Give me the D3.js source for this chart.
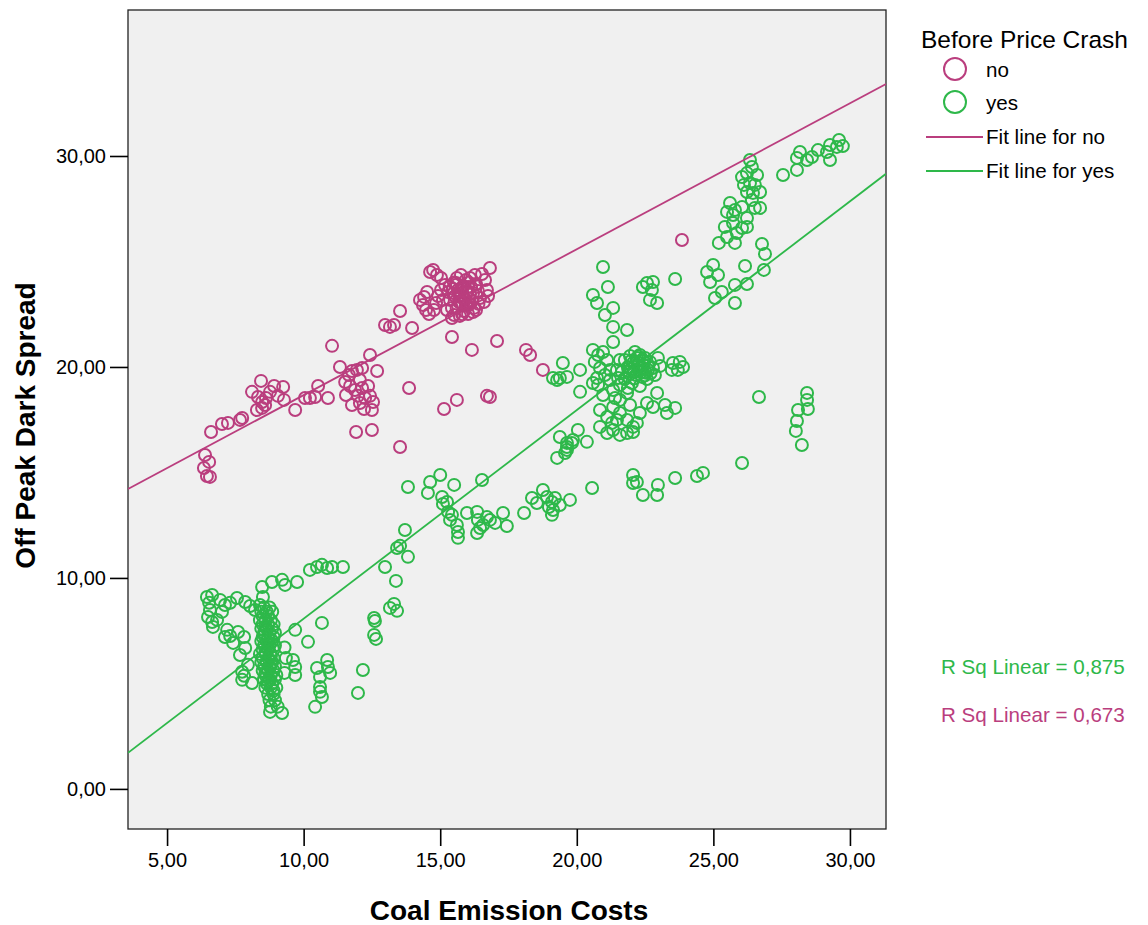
<!DOCTYPE html>
<html><head><meta charset="utf-8">
<script src="https://cdn.jsdelivr.net/npm/d3@7"></script>
<style>body{margin:0;background:#fff;font-family:"Liberation Sans",Arial,sans-serif}</style>
</head><body><svg id="c" width="1148" height="925"></svg>
<script>
// ---- data ----
const xTicks = [5, 10, 15, 20, 25, 30];
const yTicks = [0, 10, 20, 30];
const groups = ["no", "yes"];
const rSqLabels = ["R Sq Linear = 0,875", "R Sq Linear = 0,673"];
const fitNo = [11.75, 0.6915];   // intercept, slope
const fitYes = [-1.82, 0.989];

const noPoints = [
[6.39,15.83],[6.54,15.50],[6.35,15.21],[6.46,14.83],[6.57,14.79],[6.61,16.92],[7.01,17.30],[7.23,17.35],[7.67,17.49],[7.75,17.58],
[8.11,18.82],[8.44,19.34],[8.33,18.58],[8.48,18.34],[8.29,17.96],[8.48,18.06],[8.62,18.53],[8.77,18.82],[8.92,19.10],[9.25,19.05],
[9.28,18.44],[9.06,18.63],[8.59,18.20],[9.69,17.96],[10.05,18.53],[10.23,18.53],[10.42,18.58],[10.53,19.10],[10.89,18.53],[11.04,21.0],
[11.33,20.0],[11.52,19.29],[11.66,19.62],[11.77,19.81],[11.70,19.10],[11.88,18.91],[11.99,18.63],[12.06,19.38],[12.14,19.0],[12.25,18.53],
[12.06,18.29],[11.77,18.20],[12.43,18.63],[12.54,18.34],[12.36,19.10],[11.95,19.86],[12.14,19.95],[11.55,18.67],[12.21,18.01],[12.43,20.57],
[12.69,19.81],[11.92,16.92],[12.50,17.01],[12.50,17.96],[13.53,16.21],[12.98,21.99],[13.16,21.90],[13.31,21.99],[13.53,22.65],[13.97,21.85],
[13.86,19.0],[14.26,23.18],[14.37,22.94],[14.48,22.70],[14.59,22.51],[14.63,24.5],[14.74,24.6],[14.88,24.36],[15.03,24.22],[14.41,23.32],
[14.52,23.55],[15.18,23.89],[15.29,23.55],[15.36,23.18],[15.43,22.80],[15.51,22.46],[15.58,23.98],[15.65,23.65],[15.72,23.32],[15.80,22.99],
[15.87,22.65],[15.94,24.12],[16.02,23.79],[16.09,23.46],[16.16,23.13],[16.24,22.80],[16.31,23.93],[16.38,23.60],[16.46,23.27],[15.54,23.36],
[15.69,23.08],[15.84,23.84],[15.98,23.51],[16.13,23.79],[15.61,24.22],[15.76,24.36],[16.09,24.22],[16.27,24.36],[16.53,24.41],[16.64,24.12],
[15.10,23.18],[15.25,22.70],[15.43,22.32],[15.72,22.42],[16.02,22.51],[16.31,22.70],[16.60,23.08],[16.75,23.36],[16.71,23.65],[15.03,23.65],
[14.92,23.36],[14.85,23.03],[14.77,22.70],[15.87,23.27],[15.94,22.94],[15.47,23.70],[16.82,24.69],[15.43,21.42],[15.14,18.01],[15.61,18.44],
[16.16,20.81],[16.71,18.63],[16.82,18.58],[17.08,21.23],[18.14,20.81],[18.29,20.57],[18.76,19.86],[23.85,26.02],
[15.5,23.5],[15.6,23.9],[15.7,23.4],[15.8,23.7],[15.9,23.2],[16.0,23.6],[16.1,23.0],[16.2,23.5],[16.3,23.9],[15.6,22.8],
[15.8,22.5],[16.0,22.9],[16.2,22.6],[15.5,24.0],[16.4,23.0],[15.75,23.05],[16.05,24.0],[15.35,23.8]
];

const yesPoints = [
// lower-left loop
[6.46,9.10],[6.65,9.19],[6.54,8.82],[6.57,8.48],[6.50,8.15],[6.65,7.91],[6.68,7.68],[6.83,8.01],[6.94,8.96],[7.12,8.72],
[7.31,8.82],[7.56,9.05],[7.86,8.86],[8.04,8.67],[8.22,8.48],[8.40,8.72],[7.01,8.39],[7.20,7.54],[7.12,7.20],[7.42,6.92],
[7.31,7.25],[7.60,7.44],[7.82,7.20],[7.67,6.35],[7.86,6.68],[7.75,5.55],[7.75,5.17],[7.82,5.36],[8.11,5.02],[7.96,5.88],
[8.48,9.57],[8.51,9.10],[8.84,9.81],[9.21,9.91],[9.32,9.67],[9.76,9.81],[9.69,7.54],[10.16,6.97],[10.67,7.87],[10.23,10.38],
[10.49,10.52],[10.67,10.62],[10.86,10.47],[11.04,10.52],[11.44,10.52],[9.61,6.11],[9.69,5.78],[9.69,5.40],[10.49,5.73],[10.60,5.31],
[10.60,4.83],[10.67,4.36],[10.60,4.60],[10.86,6.11],[10.89,5.78],[10.97,5.50],[10.42,3.89],[12.17,5.64],[11.99,4.55],
// dense column
[8.55,8.6],[8.75,8.6],[8.45,8.4],[8.65,8.4],[8.85,8.4],[8.5,8.2],[8.7,8.2],[8.4,8.0],[8.6,8.0],[8.8,8.0],
[8.5,7.8],[8.7,7.8],[8.9,7.8],[8.45,7.6],[8.65,7.6],[8.85,7.6],[8.55,7.4],[8.75,7.4],[8.95,7.4],[8.5,7.2],
[8.7,7.2],[8.9,7.2],[8.45,7.0],[8.65,7.0],[8.85,7.0],[8.55,6.8],[8.75,6.8],[8.95,6.8],[8.5,6.6],[8.7,6.6],
[8.9,6.6],[8.4,6.4],[8.6,6.4],[8.8,6.4],[8.5,6.2],[8.7,6.2],[8.9,6.2],[8.45,6.0],[8.65,6.0],[8.85,6.0],
[8.55,5.8],[8.75,5.8],[8.95,5.8],[8.5,5.6],[8.7,5.6],[8.9,5.6],[8.6,5.4],[8.8,5.4],[9.0,5.4],[8.55,5.2],
[8.75,5.2],[8.95,5.2],[8.65,5.0],[8.85,5.0],[8.6,4.8],[8.8,4.8],[9.0,4.8],[8.7,4.5],[8.9,4.5],[8.75,4.2],
[8.95,4.2],[8.8,3.9],[9.05,3.9],[8.77,3.65],[9.21,3.6],[9.3,6.7],[9.35,6.2],[9.3,5.5],
[8.6,7.7],[8.8,7.1],[8.6,6.5],[8.8,5.9],[8.6,5.5],[8.7,5.1],[8.9,4.65],[8.7,6.9],[8.8,6.3],[8.55,7.3],
// mid group
[12.98,10.52],[13.42,11.42],[13.82,11.0],[13.38,9.86],[13.16,8.58],[13.42,8.44],[13.31,8.77],[12.58,8.10],[12.61,7.96],[12.58,7.30],
[12.65,7.11],[13.53,11.52],[13.71,12.27],
[13.82,14.31],[14.63,14.55],[15.0,14.88],[15.51,14.41],[14.55,14.03],[15.07,13.84],[15.25,13.60],[15.10,13.51],[15.29,13.13],[15.36,12.75],
[15.43,12.99],[15.61,12.51],[15.65,12.18],[15.65,11.90],[15.98,13.08],[16.35,13.13],[16.38,12.75],[16.46,12.37],[16.35,12.13],[16.71,12.89],
[16.82,12.75],[17.01,12.61],[16.57,12.51],[17.30,13.08],[17.44,12.46],[16.53,14.64],[18.07,13.08],[18.36,13.79],[18.54,13.55],[18.76,14.17],
[18.91,13.84],[19.09,13.60],[19.13,13.22],[19.09,12.99],[19.38,13.46],[19.75,13.70],[18.98,13.36],[19.20,13.79],[20.56,14.26],[22.06,14.88],
[22.06,14.50],[22.20,14.55],[22.42,13.93],[22.94,13.93],[22.97,14.41],[23.60,14.74],[24.40,14.83],[24.62,14.98],[26.05,15.45],
// main cluster
[19.28,15.69],[19.57,15.92],[19.64,16.21],[19.82,16.40],[20.37,16.45],[19.38,16.68],[19.64,16.40],[19.86,16.54],[20.04,17.01],[19.64,16.07],
[19.49,20.19],[20.12,19.86],[19.13,19.48],[19.38,19.48],[19.64,19.53],[19.28,19.38],[20.12,18.82],[20.59,19.24],[21.33,18.91],[21.84,18.77],
[20.85,17.96],[21.11,17.63],[21.33,18.10],[21.58,17.82],[21.84,17.49],[22.06,17.16],[22.20,17.35],[20.85,17.16],[21.11,16.87],[21.33,17.01],
[21.58,16.78],[21.84,16.87],[22.06,16.92],[22.57,18.29],[22.79,18.10],[22.94,18.77],[23.30,17.82],[23.60,18.06],[23.23,18.20],[23.52,20.19],
[23.77,20.24],[23.89,20.0],[23.70,19.86],[23.48,19.86],[20.96,24.74],[21.14,23.79],[20.59,23.41],[20.74,23.03],[21.33,22.80],[21.03,22.46],
[21.33,21.90],[21.84,21.75],[21.33,21.18],[22.42,23.79],[22.57,23.98],[22.79,24.03],[22.75,23.65],[22.68,23.18],[22.94,23.03],[23.60,24.17],
[20.59,20.81],[20.78,20.57],[20.96,20.71],[20.66,20.24],[20.85,19.95],[21.03,19.62],[20.74,19.48],[21.11,20.33],[21.22,19.86],[20.78,19.15],
[20.96,18.67],[21.22,19.38],[21.40,18.53],[21.58,19.15],[21.47,19.86],[21.58,20.33],
[21.76,20.33],[21.95,20.52],[22.13,20.71],[22.31,20.57],[22.50,20.43],[22.68,20.24],[21.87,20.0],[22.06,20.19],[22.24,20.09],[22.42,19.95],
[22.61,19.86],[22.79,19.95],[21.95,19.67],[22.17,19.62],[22.39,19.53],[22.57,19.43],[21.76,19.43],[22.02,19.24],[22.31,19.10],[22.86,19.62],
[22.97,20.43],[21.65,19.76],[22.20,20.43],[22.46,20.28],[21.98,19.91],[22.28,19.81],[22.53,19.72],[23.05,20.05],[21.51,19.48],[21.87,19.0],
[21.58,18.44],[21.95,18.20],[21.47,17.49],[21.29,17.35],[22.31,17.82],
[22.0,20.3],[22.1,19.8],[22.2,20.25],[22.35,19.75],[22.45,20.1],[22.6,20.05],[22.1,19.45],[22.5,19.6],[22.7,19.7],[21.9,19.8],
[22.25,20.5],[22.4,20.35],
// upper right
[24.77,24.50],[24.99,24.83],[25.17,24.36],[24.88,24.03],[25.06,23.27],[25.31,23.55],[25.79,23.89],[25.79,23.03],[26.23,23.93],[26.16,24.79],
[26.85,24.60],[26.78,25.83],[26.89,25.36],[25.20,25.88],[25.79,25.88],[25.50,27.35],[25.61,27.77],[25.79,27.44],[26.05,27.58],[26.23,27.06],
[26.05,26.59],[25.72,26.82],[25.42,26.64],[25.50,26.16],[25.86,26.35],[26.23,26.64],[26.52,27.54],[26.71,27.54],[26.41,27.91],[25.72,27.20],
[26.23,29.19],[26.41,29.48],[26.60,29.10],[26.05,29.0],[26.45,28.25],[26.71,28.29],[26.23,28.29],[26.34,28.72],[26.34,29.81],[26.52,28.63],
[26.12,28.63],[27.55,29.10],[28.06,29.34],[28.17,30.19],[28.06,29.91],[28.43,29.81],[28.61,29.95],[28.83,30.28],[29.27,29.81],[29.52,30.43],
[29.27,30.52],[29.74,30.47],[29.60,30.76],[29.16,30.19],
// far right lower
[26.67,18.58],[28.43,18.77],[28.43,18.44],[28.46,18.01],[28.10,17.96],[28.06,17.44],[28.02,16.97],[28.24,16.30]
];

// ---- drawing ----
const colNo = "#BA3E7E", colYes = "#2EB84A";
const svg = d3.select("#c");
const L = 128, R = 886, T = 10, B = 829;
const x = d3.scaleLinear().domain([3.57, 31.32]).range([L, R]);
const y = d3.scaleLinear().domain([-1.9, 36.92]).range([B, T]);
const font = '"Liberation Sans",Arial,sans-serif';

svg.append("rect").attr("x", L).attr("y", T).attr("width", R - L).attr("height", B - T)
  .attr("fill", "#F0F0F0").attr("stroke", "#222").attr("stroke-width", 1.3);

svg.append("clipPath").attr("id", "pc").append("rect")
  .attr("x", L).attr("y", T).attr("width", R - L).attr("height", B - T);

const fmt = d => d3.format(".2f")(d).replace(".", ",");
const xAxis = d3.axisBottom(x).tickValues(xTicks).tickSize(17).tickPadding(7).tickFormat(fmt);
const gx = svg.append("g").attr("transform", `translate(0,${B})`).call(xAxis);
gx.select(".domain").remove();
gx.selectAll("line").attr("stroke", "#000").attr("stroke-width", 1.6);
gx.selectAll("text").attr("font-family", font).attr("font-size", 20).attr("fill", "#000");

const yAxis = d3.axisLeft(y).tickValues(yTicks).tickSize(18).tickPadding(4).tickFormat(fmt);
const gy = svg.append("g").attr("transform", `translate(${L},0)`).call(yAxis);
gy.select(".domain").remove();
gy.selectAll("line").attr("stroke", "#000").attr("stroke-width", 1.6);
gy.selectAll("text").attr("font-family", font).attr("font-size", 20).attr("fill", "#000");

const plot = svg.append("g").attr("clip-path", "url(#pc)");
function drawPts(pts, col) {
  plot.append("g").selectAll("circle").data(pts).join("circle")
    .attr("cx", d => x(d[0])).attr("cy", d => y(d[1])).attr("r", 6)
    .attr("fill", "none").attr("stroke", col).attr("stroke-width", 2);
}
drawPts(noPoints, colNo);
drawPts(yesPoints, colYes);

const line = d3.line().x(d => x(d[0])).y(d => y(d[1]));
function drawFit(f, col) {
  const dom = x.domain();
  plot.append("path").attr("d", line(dom.map(v => [v, f[0] + f[1] * v])))
    .attr("stroke", col).attr("stroke-width", 1.8).attr("fill", "none");
}
drawFit(fitNo, colNo);
drawFit(fitYes, colYes);

// axis titles
svg.append("text").attr("x", (L + R) / 2 + 2).attr("y", 920).attr("text-anchor", "middle")
  .attr("font-family", font).attr("font-weight", "bold").attr("font-size", 28).text("Coal Emission Costs");
svg.append("text").attr("transform", `translate(35,${(T + B) / 2 + 6}) rotate(-90)`).attr("text-anchor", "middle")
  .attr("font-family", font).attr("font-weight", "bold").attr("font-size", 28).text("Off Peak Dark Spread");

// legend
const lg = svg.append("g").attr("font-family", font).attr("fill", "#000");
lg.append("text").attr("x", 921).attr("y", 48).attr("font-size", 24.5).text("Before Price Crash");
const cols = [colNo, colYes];
groups.forEach((g, i) => {
  lg.append("circle").attr("cx", 955).attr("cy", 69 + i * 33).attr("r", 11)
    .attr("fill", "none").attr("stroke", cols[i]).attr("stroke-width", 2);
  lg.append("text").attr("x", 986).attr("y", 77 + i * 33).attr("font-size", 20.6).text(g);
  lg.append("line").attr("x1", 926).attr("x2", 983).attr("y1", 137 + i * 34).attr("y2", 137 + i * 34)
    .attr("stroke", cols[i]).attr("stroke-width", 2);
  lg.append("text").attr("x", 986).attr("y", 144 + i * 34).attr("font-size", 20.6).text("Fit line for " + g);
});
svg.append("text").attr("x", 941).attr("y", 674).attr("font-family", font).attr("font-size", 20.6)
  .attr("fill", colYes).text(rSqLabels[0]);
svg.append("text").attr("x", 941).attr("y", 722).attr("font-family", font).attr("font-size", 20.6)
  .attr("fill", colNo).text(rSqLabels[1]);
</script></body></html>
